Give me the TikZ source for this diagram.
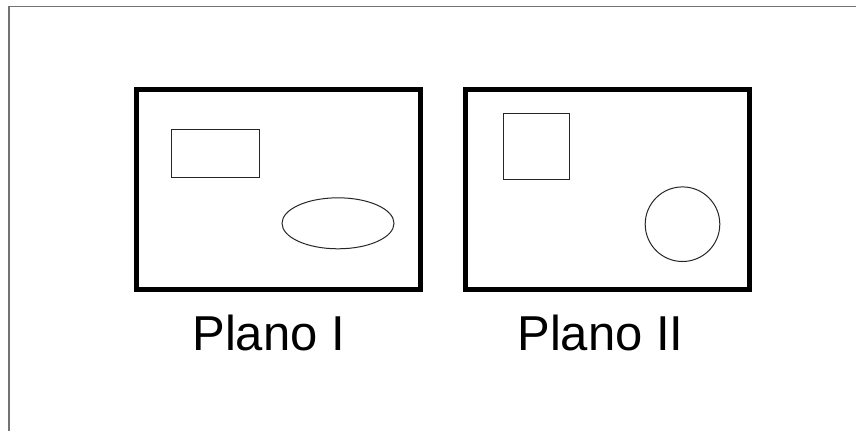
\documentclass[tikz,border=0pt]{standalone}
\usepackage{fontspec}
\setmainfont{Liberation Sans}
\tikzset{
  frame/.style={line width=4.5pt, draw=black},
  shapeline/.style={line width=1pt, draw=black!85},
  edge/.style={line width=1.5pt, draw=black!55},
  caption/.style={anchor=base, inner sep=0pt, font=\fontsize{49}{50}\selectfont}
}
\begin{document}
\begin{tikzpicture}[x=1pt, y=-1pt]
  \useasboundingbox (0,0) rectangle (856,431);
  \fill[white] (0,0) rectangle (856,431);
  % page edge lines (top and left)
  \draw[edge] (856,6.5) -- (9,6.5) -- (9,431);
  % first plan
  \draw[frame] (136.5,89.5) rectangle (420.5,289.5);
  \draw[shapeline] (171.5,129.5) rectangle (259,177.5);
  \draw[shapeline] (338,223.3) ellipse [x radius=56, y radius=25.5];
  % second plan
  \draw[frame] (465.5,89.5) rectangle (749.5,289.5);
  \draw[shapeline] (503.5,113.5) rectangle (569,179.5);
  \draw[shapeline] (682.5,224.2) circle [radius=37.3];
  % captions
  \node[caption] (planoI) at (268.7,350) {Plano I};
  \node[caption] (planoII) at (600.5,350) {Plano II};
\end{tikzpicture}
\end{document}
